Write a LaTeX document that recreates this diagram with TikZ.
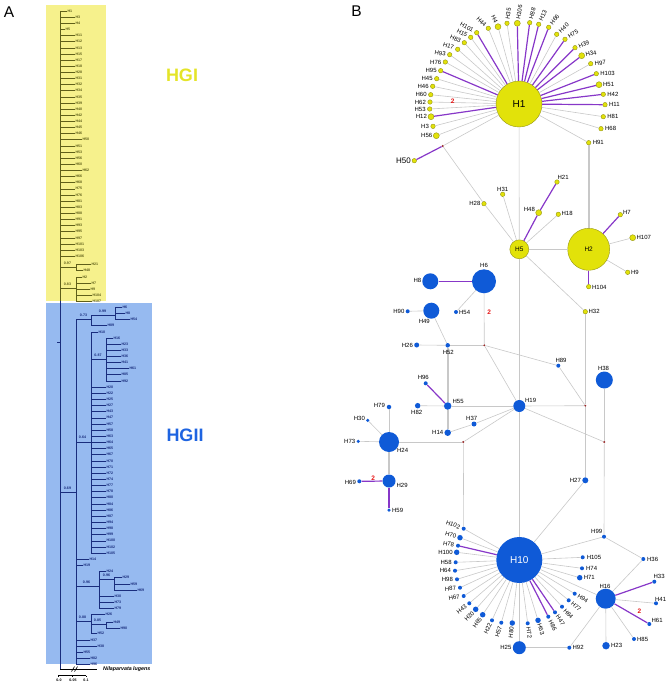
\documentclass[tikz,border=0pt]{standalone}
\usepackage{fontspec}
\setmainfont{Liberation Sans}
\usetikzlibrary{calc}
\definecolor{yelbg}{RGB}{246,241,140}
\definecolor{blubg}{RGB}{150,186,240}
\definecolor{yelt}{RGB}{95,95,25}
\definecolor{blut}{RGB}{25,45,125}
\definecolor{hgi}{RGB}{228,228,40}
\definecolor{hgii}{RGB}{30,100,225}
\definecolor{yel}{RGB}{226,226,10}
\definecolor{yeld}{RGB}{150,150,20}
\definecolor{blu}{RGB}{15,90,215}
\definecolor{purp}{RGB}{135,55,200}
\definecolor{grl}{RGB}{200,200,200}
\definecolor{medc}{RGB}{150,40,40}
\definecolor{redtwo}{RGB}{230,20,20}
\tikzset{
 tl/.style={font=\fontsize{3.6}{4}\selectfont\bfseries, inner sep=0.4pt, anchor=west},
 bsv/.style={font=\fontsize{3.6}{4}\selectfont\bfseries, inner sep=0},
 tly/.style={draw=yelt, line width=0.5pt},
 tlb/.style={draw=blut, line width=0.5pt},
 yn/.style={circle, fill=yel, draw=yeld, line width=0.4pt, inner sep=0, minimum size=#1},
 bn/.style={circle, fill=blu, inner sep=0, minimum size=#1},
 md/.style={circle, fill=medc, inner sep=0, minimum size=2.2pt},
 ge/.style={draw=grl, line width=0.6pt},
 gt/.style={draw=grl, line width=1.6pt},
 pe/.style={draw=purp, line width=1.2pt},
 lb/.style={font=\fontsize{6}{7}\selectfont, inner sep=0.4pt},
 two/.style={font=\fontsize{6.5}{7}\selectfont\bfseries, text=redtwo, inner sep=0},
}
\newcommand{\labW}[2]{\node[lb, rotate=#2, anchor=west] (l#1) at ($(#1)+({3.5*cos(#2)},{-3.5*sin(#2)})$) {#1};}
\newcommand{\labE}[2]{\node[lb, rotate=#2, anchor=east] (l#1) at ($(#1)-({3.5*cos(#2)},{-3.5*sin(#2)})$) {#1};}
\begin{document}
\begin{tikzpicture}[x=1pt,y=-1pt]
\useasboundingbox (0,0) rectangle (667,685);
% ================= Panel A =================
\node[font=\fontsize{15.5}{16}\selectfont, inner sep=0] (pA) at (9,12.5) {A};
\fill[yelbg] (46,5) rectangle (106,301);
\fill[blubg] (46,303) rectangle (152,664);
\node[font=\fontsize{18}{18}\selectfont\bfseries, text=hgi, inner sep=0] (tHGI) at (182,75) {HGI};
\node[font=\fontsize{18}{18}\selectfont\bfseries, text=hgii, inner sep=0] (tHGII) at (185,435) {HGII};
% root line
\coordinate (rTop) at (60,11);
\coordinate (og) at (60,669);
\draw[tly] (rTop) -- (60,301);
\draw[tlb] (60,301) -- (og);
\draw[tlb] (57,342) -- (60,342);
% HGI leaves
\foreach \n/\i/\e in {H1/0/67,H3/1/75,H4/2/75,H5/3/65,H11/4/75,H12/5/75,H13/6/75,H15/7/75,H17/8/75,H18/9/75,H28/10/75,H31/11/75,H32/12/75,H34/13/75,H35/14/75,H39/15/75,H40/16/75,H42/17/75,H44/18/75,H45/19/75,H46/20/75,H50/21/82,H51/22/75,H53/23/75,H56/24/75,H60/25/75,H62/26/82,H66/27/75,H68/28/75,H75/29/75,H76/30/75,H81/31/75,H83/32/75,H88/33/75,H91/34/75,H93/35/75,H95/36/75,H97/37/75,H101/38/75,H103/39/75,H106/40/75}{
  \pgfmathsetmacro\yy{11+\i*6.13}
  \coordinate (a\n) at (60,\yy);
  \node[tl, text=yelt] (t\n) at (\e,\yy) {\n};
  \draw[tly] (a\n) -- (t\n.west);
}
% 0.97 clade
\coordinate (c97a) at (60,267); \coordinate (c97b) at (76,267);
\draw[tly] (c97a) -- (c97b);
\node[bsv, text=yelt] (b97) at (67.5,263.5) {0.97};
\foreach \n/\y/\e in {H21/264/91,H48/270/83}{
  \coordinate (a\n) at (76,\y);
  \node[tl, text=yelt] (t\n) at (\e,\y) {\n};
  \draw[tly] (a\n) -- (t\n.west);
}
\draw[tly] (aH21) -- (aH48);
% 0.83 clade
\coordinate (c83a) at (60,288); \coordinate (c83b) at (76,288);
\draw[tly] (c83a) -- (c83b);
\node[bsv, text=yelt] (b83) at (67.5,284.5) {0.83};
\foreach \n/\y/\e in {H2/277/82,H7/283/91,H9/289/90,H104/295/92,H107/301/92}{
  \coordinate (a\n) at (76,\y);
  \node[tl, text=yelt] (t\n) at (\e,\y) {\n};
  \draw[tly] (a\n) -- (t\n.west);
}
\draw[tly] (aH2) -- (aH107);
% HGII
\coordinate (c69a) at (60,492); \coordinate (c69b) at (76,492);
\draw[tlb] (c69a) -- (c69b);
\node[bsv, text=blut] (b69) at (67.5,488) {0.69};
\coordinate (g2top) at (76,319); \coordinate (g2bot) at (76,664);
\draw[tlb] (g2top) -- (g2bot);
% 0.73
\coordinate (c73b) at (91,319);
\draw[tlb] (g2top) -- (c73b);
\node[bsv, text=blut] (b73) at (83.5,315) {0.73};
\coordinate (c99a) at (91,315); \coordinate (c99b) at (115,315);
\draw[tlb] (c99a) -- (c99b);
\node[bsv, text=blut] (b99) at (102.5,311) {0.99};
\foreach \n/\y/\e/\p in {H6/307/122/115,H8/313/125/115,H54/319/130/115,H89/325/107/91,H10/332/98/91}{
  \coordinate (a\n) at (\p,\y);
  \node[tl, text=blut] (t\n) at (\e,\y) {\n};
  \draw[tlb] (a\n) -- (t\n.west);
}
\draw[tlb] (aH6) -- (aH54);
\draw[tlb] (c99a) -- (aH89);
% 0.64
\coordinate (c64a) at (76,442); \coordinate (c64b) at (91,442);
\draw[tlb] (c64a) -- (c64b);
\node[bsv, text=blut] (b64) at (82.5,437.5) {0.64};
\coordinate (c64bot) at (91,553);
\draw[tlb] (aH10) -- (c64bot);
% 0.87
\coordinate (c87a) at (91,359); \coordinate (c87b) at (106,359);
\draw[tlb] (c87a) -- (c87b);
\node[bsv, text=blut] (b87) at (98,355) {0.87};
\foreach \n/\y/\e in {H16/338/113,H23/344/121,H33/350/121,H36/356/121,H41/362/121,H61/368/129,H85/374/121,H92/381/121}{
  \coordinate (a\n) at (106,\y);
  \node[tl, text=blut] (t\n) at (\e,\y) {\n};
  \draw[tlb] (a\n) -- (t\n.west);
}
\draw[tlb] (aH16) -- (aH92);
\foreach \n/\i in {H20/0,H22/1,H25/2,H27/3,H43/4,H47/5,H57/6,H58/7,H63/8,H64/9,H65/10,H67/11,H70/12,H71/13,H72/14,H74/15,H77/16,H78/17,H80/18,H84/19,H86/20,H87/21,H94/22,H98/23,H99/24,H100/25,H102/26,H105/27}{
  \pgfmathsetmacro\yy{387+\i*6.15}
  \coordinate (a\n) at (91,\yy);
  \node[tl, text=blut] (t\n) at (106,\yy) {\n};
  \draw[tlb] (a\n) -- (t\n.west);
}
\foreach \n/\y/\e in {H14/559/89,H19/565/83,H37/640/90,H38/646/97,H55/652/83,H82/658/90,H96/664/90}{
  \coordinate (a\n) at (76,\y);
  \node[tl, text=blut] (t\n) at (\e,\y) {\n};
  \draw[tlb] (a\n) -- (t\n.west);
}
% 0.96
\coordinate (c96a) at (76,586); \coordinate (c96b) at (99,586);
\draw[tlb] (c96a) -- (c96b);
\node[bsv, text=blut] (b96) at (86.5,582) {0.96};
\foreach \n/\y/\e in {H24/571/106,H30/596/114,H73/602/114,H79/608/114}{
  \coordinate (a\n) at (99,\y);
  \node[tl, text=blut] (t\n) at (\e,\y) {\n};
  \draw[tlb] (a\n) -- (t\n.west);
}
\draw[tlb] (aH24) -- (aH79);
\coordinate (c96c) at (99,579); \coordinate (c96d) at (114,579);
\draw[tlb] (c96c) -- (c96d);
\node[bsv, text=blut] (b96b) at (106.5,575) {0.96};
\foreach \n/\y/\e in {H29/577/122,H59/584/130,H69/590/137}{
  \coordinate (a\n) at (114,\y);
  \node[tl, text=blut] (t\n) at (\e,\y) {\n};
  \draw[tlb] (a\n) -- (t\n.west);
}
\draw[tlb] (aH29) -- (aH69);
% 0.88
\coordinate (c88a) at (76,621); \coordinate (c88b) at (91,621);
\draw[tlb] (c88a) -- (c88b);
\node[bsv, text=blut] (b88) at (82.5,617) {0.88};
\foreach \n/\y/\e in {H26/614/105,H52/633/97}{
  \coordinate (a\n) at (91,\y);
  \node[tl, text=blut] (t\n) at (\e,\y) {\n};
  \draw[tlb] (a\n) -- (t\n.west);
}
\draw[tlb] (aH26) -- (aH52);
\coordinate (c85a) at (91,624); \coordinate (c85b) at (106,624);
\draw[tlb] (c85a) -- (c85b);
\node[bsv, text=blut] (b85) at (97.5,620) {0.85};
\foreach \n/\y/\e in {H49/622/113,H90/628/120}{
  \coordinate (a\n) at (106,\y);
  \node[tl, text=blut] (t\n) at (\e,\y) {\n};
  \draw[tlb] (a\n) -- (t\n.west);
}
\draw[tlb] (aH49) -- (aH90);
% outgroup
\coordinate (ogE) at (97,669);
\draw[line width=0.5pt] (og) -- (ogE);
\draw[line width=0.6pt] (71.5,671.5) -- (74.5,666.5) (74.5,671.5) -- (77.5,666.5);
\node[anchor=west, inner sep=0, font=\fontsize{5.3}{6}\selectfont\bfseries\itshape] (tNl) at (103,669) {Nilaparvata lugens};
% scale bar
\draw[line width=0.4pt] (58,675.5) -- (86,675.5) (58,675.5) -- (58,677) (72,675.5) -- (72,677) (86,675.5) -- (86,677);
\node[bsv] (s0) at (59,680.5) {0.0};
\node[bsv] (s1) at (73,680.5) {0.05};
\node[bsv] (s2) at (86,680.5) {0.1};
% ================= Panel B =================
\node[font=\fontsize{15.5}{16}\selectfont, inner sep=0] (pB) at (356.5,11) {B};
% yellow nodes
\node[yn=46] (H1) at (519,104) {};
\node[font=\fontsize{10}{10}\selectfont] (lH1) at (H1) {H1};
\foreach \n/\x/\y/\s in {H101/476.7/32.7/4.5,H44/488.3/28.3/4.5,H4/498/26.7/6,H35/507/23.3/4.5,H106/517.3/23.3/6,H88/529.7/22.7/4.5,H13/538.7/24.3/4.5,H66/548.7/27.3/4.5,H40/556.7/34.3/4.5,H75/565/39.3/4.5,H39/575/47.7/4.5,H34/581.7/55.7/6,H97/590.7/63.7/4.5,H103/596.3/73.7/4.5,H51/599/84.7/6,H42/603.3/94.3/4.5,H11/605/104.7/4.5,H81/603.3/116.7/4.5,H68/601/128.7/4.5,H91/588.7/142.7/4.5,H15/470.7/37.3/4.5,H83/464.3/42.7/4.5,H17/457.7/49.3/4.5,H93/449.7/54.7/4.5,H76/445.3/62/4.5,H95/440.7/70.7/4.5,H45/436.7/78.7/4.5,H46/432.7/86.3/4.5,H60/430.7/94.7/4.5,H62/430/102/4.5,H53/429.7/109/4.5,H12/431/116.7/6,H3/433/126.3/4.5,H56/436.3/135.7/6,H50/414.3/160.7/4.5,H28/484/203.7/4.5,H31/502.7/194.3/4.5,H48/538.7/212.7/6,H21/557/182/4.5,H18/558.3/214.3/4.5,H7/620.3/214.7/4.5,H107/632.7/237.7/6,H9/627.7/272.3/4.5,H104/588.7/286.7/4.5,H32/585.3/311.7/4.5}{
  \node[yn=\s] (\n) at (\x,\y) {};
}
\node[yn=19] (H5) at (519.3,249.3) {};
\node[font=\fontsize{6.5}{7}\selectfont] (lH5) at (H5) {H5};
\node[yn=42] (H2) at (588.7,249.3) {};
\node[font=\fontsize{6.5}{7}\selectfont] (lH2) at (H2) {H2};
% medians
\node[md] (mA) at (442.7,146) {};
\node[md] (mB) at (585.3,405.7) {};
\node[md] (mC) at (484.3,345.3) {};
\node[md] (mD) at (604.3,442) {};
\node[md] (mE) at (463.3,442) {};
% blue nodes
\foreach \n/\x/\y/\s in {H6/484/281.3/24,H8/430.3/281.3/16,H49/431.3/310.7/16,H90/407.7/311.3/4,H54/456/312/4,H52/447.7/345.3/4.5,H26/416.7/345/5,H89/558.3/365.7/4,H38/604.3/380/17,H19/519.3/406/12,H55/447.7/406/7.5,H96/425.7/383.3/4,H82/417.7/405.7/5.5,H14/447.7/432.7/6.5,H37/474/424/5,H24/389/442/20,H79/389/407/4.5,H30/367.7/420.3/3.5,H73/358.3/441.3/3.5,H29/389/481/13,H69/359.3/481.3/4,H59/389/510/3.5,H27/585.3/480.3/6,H99/604/536.7/4,H36/643.3/559/4,H16/605.7/598.7/20,H25/519.3/647.7/13,H92/569.3/647.7/4,H23/606/645.7/7.5,H85/634/639/4,H33/654.3/581.7/4,H41/656/603.3/4,H61/649.3/624/4,H102/463.7/528.7/4,H70/460/537.7/5.5,H78/458/545.7/4,H100/456.7/552.3/5.5,H58/455.7/562.3/4,H64/455/570.7/4,H98/457/579.3/4,H87/460/587.7/4,H67/463.7/596/4,H43/469.3/603.3/4,H20/475.7/609.3/5.5,H65/482.7/614.7/5.5,H22/492/620.3/4,H57/501.3/622.7/4,H80/512.3/623/5.5,H72/527.7/623.3/4,H63/538/620.3/5.5,H86/548.3/616.7/4,H47/555/612.3/4,H84/562/606.7/4,H77/568.7/600.3/4,H94/574.7/593.7/4,H71/579.7/577.7/5.5,H74/582/568.3/4,H105/582.7/557.3/4}{
  \node[bn=\s] (\n) at (\x,\y) {};
}
\node[bn=46] (H10) at (519.3,560) {};
\node[font=\fontsize{10}{10}\selectfont, text=white] (lH10) at (H10) {H10};
% ---- edges: yellow ----
\foreach \n in {H44,H4,H35,H40,H97,H81,H68,H91,H15,H83,H17,H93,H76,H45,H46,H60,H62,H53,H3,H56}{\draw[ge] (H1) -- (\n);}
\foreach \n in {H101,H106,H88,H13,H66,H75,H39,H34,H103,H51,H42,H11,H95,H12}{\draw[pe] (H1) -- (\n);}
\draw[ge] (H1) -- (mA);
\draw[pe] (mA) -- (H50);
\draw[ge] (mA) -- (H28);
\draw[ge] (H28) -- (H5);
\draw[ge] (H1) -- (H5);
\draw[ge] (H31) -- (H5);
\draw[pe] (H5) -- (H48);
\draw[pe] (H48) -- (H21);
\draw[ge] (H5) -- (H18);
\draw[ge] (H5) -- (H2);
\draw[gt] (H91) -- (H2);
\draw[pe] (H2) -- (H7);
\draw[ge] (H2) -- (H107);
\draw[ge] (H2) -- (H9);
\draw[pe] (H2) -- (H104);
\draw[ge] (H5) -- (H32);
\draw[ge] (H32) -- (mB);
\draw[ge] (mB) -- (H27);
\draw[ge] (H5) -- (H19);
\draw[ge] (H19) -- (H10);
% ---- edges: blue ----
\draw[pe] (H6) -- (H8);
\draw[ge] (H6) -- (H54);
\draw[ge] (H6) -- (mC);
\draw[ge] (H90) -- (H49);
\draw[ge] (H49) -- (H52);
\draw[ge] (H26) -- (H52);
\draw[ge] (H52) -- (mC);
\draw[ge] (mC) -- (H19);
\draw[ge] (mC) -- (H89);
\draw[ge] (H89) -- (mB);
\draw[ge] (H19) -- (mB);
\draw[ge] (H19) -- (mD);
\draw[ge] (H38) -- (mD);
\draw[ge] (mD) -- (H99);
\draw[ge] (H19) -- (H55);
\draw[gt] (H52) -- (H55);
\draw[gt] (H55) -- (H14);
\draw[pe] (H55) -- (H96);
\draw[ge] (H55) -- (H82);
\draw[ge] (H14) -- (H37);
\draw[ge] (H37) -- (H19);
\draw[ge] (H19) -- (mE);
\draw[ge] (H24) -- (mE);
\draw[ge] (mE) -- (H102);
\draw[ge] (H24) -- (H79);
\draw[ge] (H24) -- (H30);
\draw[ge] (H24) -- (H73);
\draw[gt] (H24) -- (H29);
\draw[pe] (H29) -- (H69);
\draw[pe] (H29) -- (H59);
\draw[ge] (H27) -- (H10);
\foreach \n in {H102,H70,H100,H58,H64,H98,H87,H67,H43,H20,H65,H22,H57,H80,H72,H63,H84,H77,H94,H71,H74,H105,H25,H99,H16}{\draw[ge] (H10) -- (\n);}
\foreach \n in {H78,H86,H47}{\draw[pe] (H10) -- (\n);}
\draw[ge] (H99) -- (H36);
\draw[ge] (H36) -- (H16);
\draw[ge] (H25) -- (H92);
\draw[ge] (H92) -- (H16);
\draw[ge] (H16) -- (H23);
\draw[ge] (H16) -- (H85);
\draw[ge] (H16) -- (H41);
\draw[pe] (H16) -- (H33);
\draw[pe] (H16) -- (H61);
% red 2s
\node[two] (n2a) at (452.7,101.7) {2};
\node[two] (n2b) at (489.3,312.7) {2};
\node[two] (n2c) at (373.3,478) {2};
\node[two] (n2d) at (639.3,611.7) {2};
% ---- labels: H1 ring ----
\labE{H101}{-30} \labE{H15}{-28} \labE{H83}{-24} \labE{H17}{-18} \labE{H93}{-8}
\labE{H44}{-45} \labE{H4}{-65}
\foreach \n in {H76,H95,H45,H46,H60,H62,H53,H12,H3,H56}{\labE{\n}{0}}
\labW{H35}{82} \labW{H106}{80} \labW{H88}{74} \labW{H13}{64} \labW{H66}{52} \labW{H40}{42}
\labW{H75}{32} \labW{H39}{22} \labW{H34}{12} \labW{H97}{5}
\foreach \n in {H103,H51,H42,H11,H81,H68,H91}{\labW{\n}{0}}
% other yellow labels
\node[font=\fontsize{8}{8}\selectfont, inner sep=0.5pt, anchor=east] (lH50) at (411.5,160.7) {H50};
\node[lb, anchor=east] (lH28) at (481,203.7) {H28};
\node[lb, anchor=south] (lH31) at (502.7,191.8) {H31};
\node[lb, anchor=east] (lH48) at (535.5,209.5) {H48};
\node[lb, anchor=west] (lH21) at (557,177.7) {H21};
\node[lb, anchor=west] (lH18) at (561,213.5) {H18};
\node[lb, anchor=west] (lH7) at (622.5,212) {H7};
\node[lb, anchor=west] (lH107) at (636,237.7) {H107};
\node[lb, anchor=west] (lH9) at (630.5,272.5) {H9};
\node[lb, anchor=west] (lH104) at (591.5,287) {H104};
\node[lb, anchor=west] (lH32) at (588,311.7) {H32};
% blue labels
\node[lb] (lH6) at (484,265) {H6};
\node[lb, anchor=east] (lH8) at (421.8,280) {H8};
\node[lb] (lH49) at (424.3,321.5) {H49};
\node[lb, anchor=east] (lH90) at (405,311.3) {H90};
\node[lb, anchor=west] (lH54) at (458.5,312.5) {H54};
\node[lb] (lH52) at (448.3,352) {H52};
\node[lb, anchor=east] (lH26) at (413.5,345.5) {H26};
\node[lb] (lH89) at (561,360.5) {H89};
\node[lb] (lH38) at (603.5,368.5) {H38};
\node[lb, anchor=west] (lH19) at (524.5,400.5) {H19};
\node[lb, anchor=west] (lH55) at (452,401) {H55};
\node[lb] (lH96) at (423.3,377.5) {H96};
\node[lb] (lH82) at (416.7,412) {H82};
\node[lb, anchor=east] (lH14) at (443.8,432.7) {H14};
\node[lb] (lH37) at (471.7,418.5) {H37};
\node[lb, anchor=west] (lH24) at (396.5,450) {H24};
\node[lb, anchor=east] (lH79) at (385.5,405) {H79};
\node[lb, anchor=east] (lH30) at (365.5,418.5) {H30};
\node[lb, anchor=east] (lH73) at (355.8,441.3) {H73};
\node[lb, anchor=west] (lH29) at (396,485.5) {H29};
\node[lb, anchor=east] (lH69) at (356.5,482) {H69};
\node[lb, anchor=west] (lH59) at (391.5,510) {H59};
\node[lb, anchor=east] (lH27) at (581.5,480.3) {H27};
\node[lb] (lH99) at (596.7,531.7) {H99};
\node[lb, anchor=west] (lH36) at (646.5,559) {H36};
\node[lb] (lH16) at (605,586) {H16};
\node[lb, anchor=east] (lH25) at (512,647.7) {H25};
\node[lb, anchor=west] (lH92) at (572,647.7) {H92};
\node[lb, anchor=west] (lH23) at (610.5,645.7) {H23};
\node[lb, anchor=west] (lH85) at (636.5,639) {H85};
\node[lb, anchor=west] (lH33) at (653,576) {H33};
\node[lb, anchor=west] (lH41) at (654.5,599.5) {H41};
\node[lb, anchor=west] (lH61) at (651,620) {H61};
% H10 ring labels
\labE{H102}{-20} \labE{H70}{-15} \labE{H78}{-10}
\foreach \n in {H100,H58,H64,H98}{\labE{\n}{0}}
\labE{H87}{5} \labE{H67}{10} \labE{H43}{38} \labE{H20}{48} \labE{H65}{56} \labE{H22}{64} \labE{H57}{73} \labE{H80}{83}
\labW{H72}{-81} \labW{H63}{-72} \labW{H86}{-63} \labW{H47}{-56} \labW{H84}{-48} \labW{H77}{-40} \labW{H94}{-32}
\foreach \n in {H71,H74,H105}{\labW{\n}{0}}
\end{tikzpicture}
\end{document}
